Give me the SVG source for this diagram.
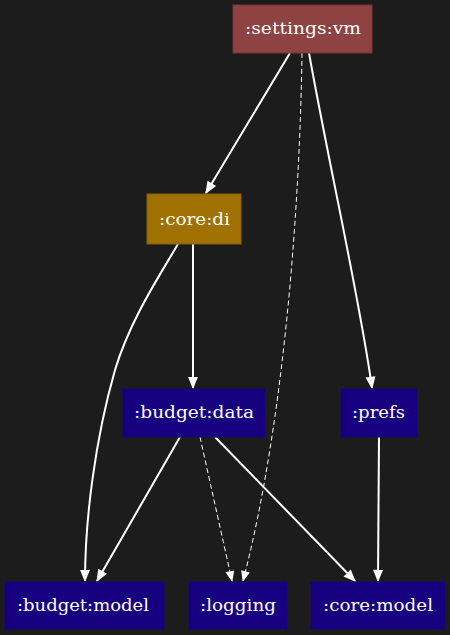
<svg xmlns="http://www.w3.org/2000/svg" width="450" height="635" viewBox="0 0 450 635">
<defs>
<style>
.blue{fill:#160080;stroke:#160080}
.e{fill:none;stroke:#ffffff;stroke-width:2}
.d{fill:none;stroke:#ffffff;stroke-width:1;stroke-dasharray:5,3}
</style>
<marker id="a" viewBox="0 0 10 10" refX="9" refY="5" markerWidth="6.5" markerHeight="6.25" markerUnits="strokeWidth" orient="auto"><path d="M0,1 L10,5 L0,9 z" fill="#ffffff"/></marker>
<marker id="ad" viewBox="0 0 10 10" refX="9" refY="5" markerWidth="13" markerHeight="11" markerUnits="strokeWidth" orient="auto"><path d="M0,1 L10,5 L0,9 z" fill="#ffffff"/></marker>
</defs>
<rect width="450" height="635" fill="#1c1c1c"/>
<g id="edges">
<path class="e" d="M290,53 L206,193" marker-end="url(#a)"/>
<path class="d" d="M302,53 C300,200 285,420 243,581" marker-end="url(#ad)"/>
<path class="e" d="M309,53 C330,170 360,300 372,388" marker-end="url(#a)"/>
<path class="e" d="M178,244 C160,275 130,320 115,370 C95,440 85,520 85,581" marker-end="url(#a)"/>
<path class="e" d="M193,244 L193,388" marker-end="url(#a)"/>
<path class="e" d="M180,437 L97,581" marker-end="url(#a)"/>
<path class="d" d="M200,437 L232,581" marker-end="url(#ad)"/>
<path class="e" d="M215,437 L355,581" marker-end="url(#a)"/>
<path class="e" d="M379,437 L378,581" marker-end="url(#a)"/>
</g>
<g font-family="DejaVu Serif, Liberation Serif, serif" font-size="16" fill="#ffffff" text-anchor="middle">
<g id="settings_vm"><rect x="233" y="5" width="139" height="48" fill="#8f4242" stroke="#7a3535"/><text x="303" y="33.5" fill="#ffffff" textLength="116" lengthAdjust="spacingAndGlyphs">:settings:vm</text></g>
<g id="core_di"><rect x="147" y="194" width="94" height="50" fill="#a07000" stroke="#8a6000"/><text x="194.5" y="224.5" fill="#ffffff" textLength="71" lengthAdjust="spacingAndGlyphs">:core:di</text></g>
<g id="budget_data"><rect x="123" y="389" width="142" height="48" class="blue"/><text x="194" y="418" fill="#ffffff" textLength="120" lengthAdjust="spacingAndGlyphs">:budget:data</text></g>
<g id="prefs"><rect x="341" y="389" width="76" height="48" class="blue"/><text x="378.5" y="418" fill="#ffffff" textLength="53" lengthAdjust="spacingAndGlyphs">:prefs</text></g>
<g id="budget_model"><rect x="5" y="582" width="159" height="47" class="blue"/><text x="83" y="610.5" fill="#ffffff" textLength="132" lengthAdjust="spacingAndGlyphs">:budget:model</text></g>
<g id="logging"><rect x="189" y="582" width="98" height="47" class="blue"/><text x="238" y="610.5" fill="#ffffff" textLength="76" lengthAdjust="spacingAndGlyphs">:logging</text></g>
<g id="core_model"><rect x="311" y="582" width="134" height="47" class="blue"/><text x="378" y="610.5" fill="#ffffff" textLength="110" lengthAdjust="spacingAndGlyphs">:core:model</text></g>
</g>
</svg>
